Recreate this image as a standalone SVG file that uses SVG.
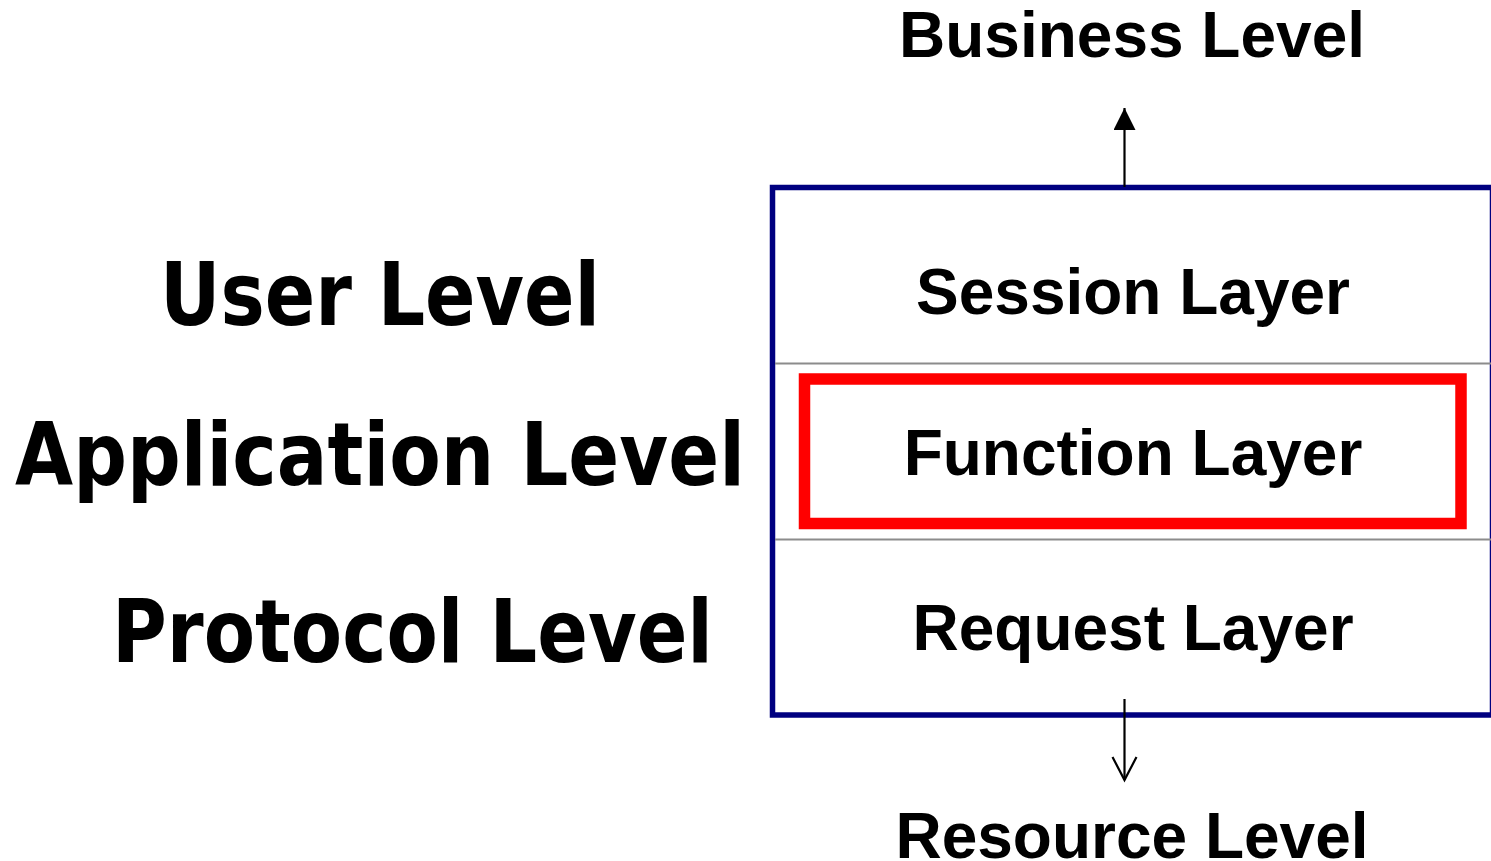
<svg xmlns="http://www.w3.org/2000/svg" width="1491" height="861" viewBox="0 0 1491 861">
  <style>
    .lvl { font-family: "DejaVu Sans", Verdana, sans-serif; font-weight: bold; font-size: 87px; fill: #000; }
    .lyr { font-family: "Liberation Sans", Arial, sans-serif; font-weight: bold; font-size: 64px; fill: #000; text-anchor: middle; }
    .sep { stroke: #8c8c8c; stroke-width: 2; }
    .conn { stroke: #000; stroke-width: 2.2; fill: none; }
  </style>
  <defs>
    <marker id="headFilled" markerUnits="userSpaceOnUse" markerWidth="24" markerHeight="24" refX="22" refY="11" orient="auto">
      <path d="M0,0 L22,11 L0,22 Z" fill="#000"/>
    </marker>
    <marker id="headOpen" markerUnits="userSpaceOnUse" markerWidth="28" markerHeight="30" refX="24" refY="13" orient="auto">
      <path d="M1,1 L24,13 L1,25" fill="none" stroke="#000" stroke-width="2.2"/>
    </marker>
  </defs>

  <rect width="1491" height="861" fill="#fff"/>

  <!-- level labels on the left -->
  <g id="user-level">
    <text class="lvl" x="160" y="325" textLength="440" lengthAdjust="spacingAndGlyphs">User Level</text>
  </g>
  <g id="application-level">
    <text class="lvl" x="15" y="485" textLength="730" lengthAdjust="spacingAndGlyphs">Application Level</text>
  </g>
  <g id="protocol-level">
    <text class="lvl" x="112" y="662" textLength="601" lengthAdjust="spacingAndGlyphs">Protocol Level</text>
  </g>

  <!-- layer stack -->
  <g id="layer-stack">
    <rect x="772.5" y="187.5" width="720" height="527.5" fill="none" stroke="#000080" stroke-width="5.5"/>
    <line class="sep" x1="775" y1="363.5" x2="1491" y2="363.5"/>
    <line class="sep" x1="775" y1="539.5" x2="1491" y2="539.5"/>
  </g>
  <g id="session-layer">
    <text class="lyr" x="1133" y="314">Session Layer</text>
  </g>
  <g id="function-layer">
    <rect x="804.5" y="379" width="656.5" height="144.5" fill="none" stroke="#ff0000" stroke-width="11.5"/>
    <text class="lyr" x="1133" y="475">Function Layer</text>
  </g>
  <g id="request-layer">
    <text class="lyr" x="1133" y="650">Request Layer</text>
  </g>

  <!-- upper and lower levels -->
  <g id="business-level">
    <text class="lyr" x="1132" y="57">Business Level</text>
  </g>
  <g id="resource-level">
    <text class="lyr" x="1132" y="858">Resource Level</text>
  </g>

  <!-- connectors -->
  <g id="connectors">
    <line class="conn" x1="1124.5" y1="187" x2="1124.5" y2="108" marker-end="url(#headFilled)"/>
    <line class="conn" x1="1124.5" y1="699" x2="1124.5" y2="780" marker-end="url(#headOpen)"/>
  </g>
</svg>
